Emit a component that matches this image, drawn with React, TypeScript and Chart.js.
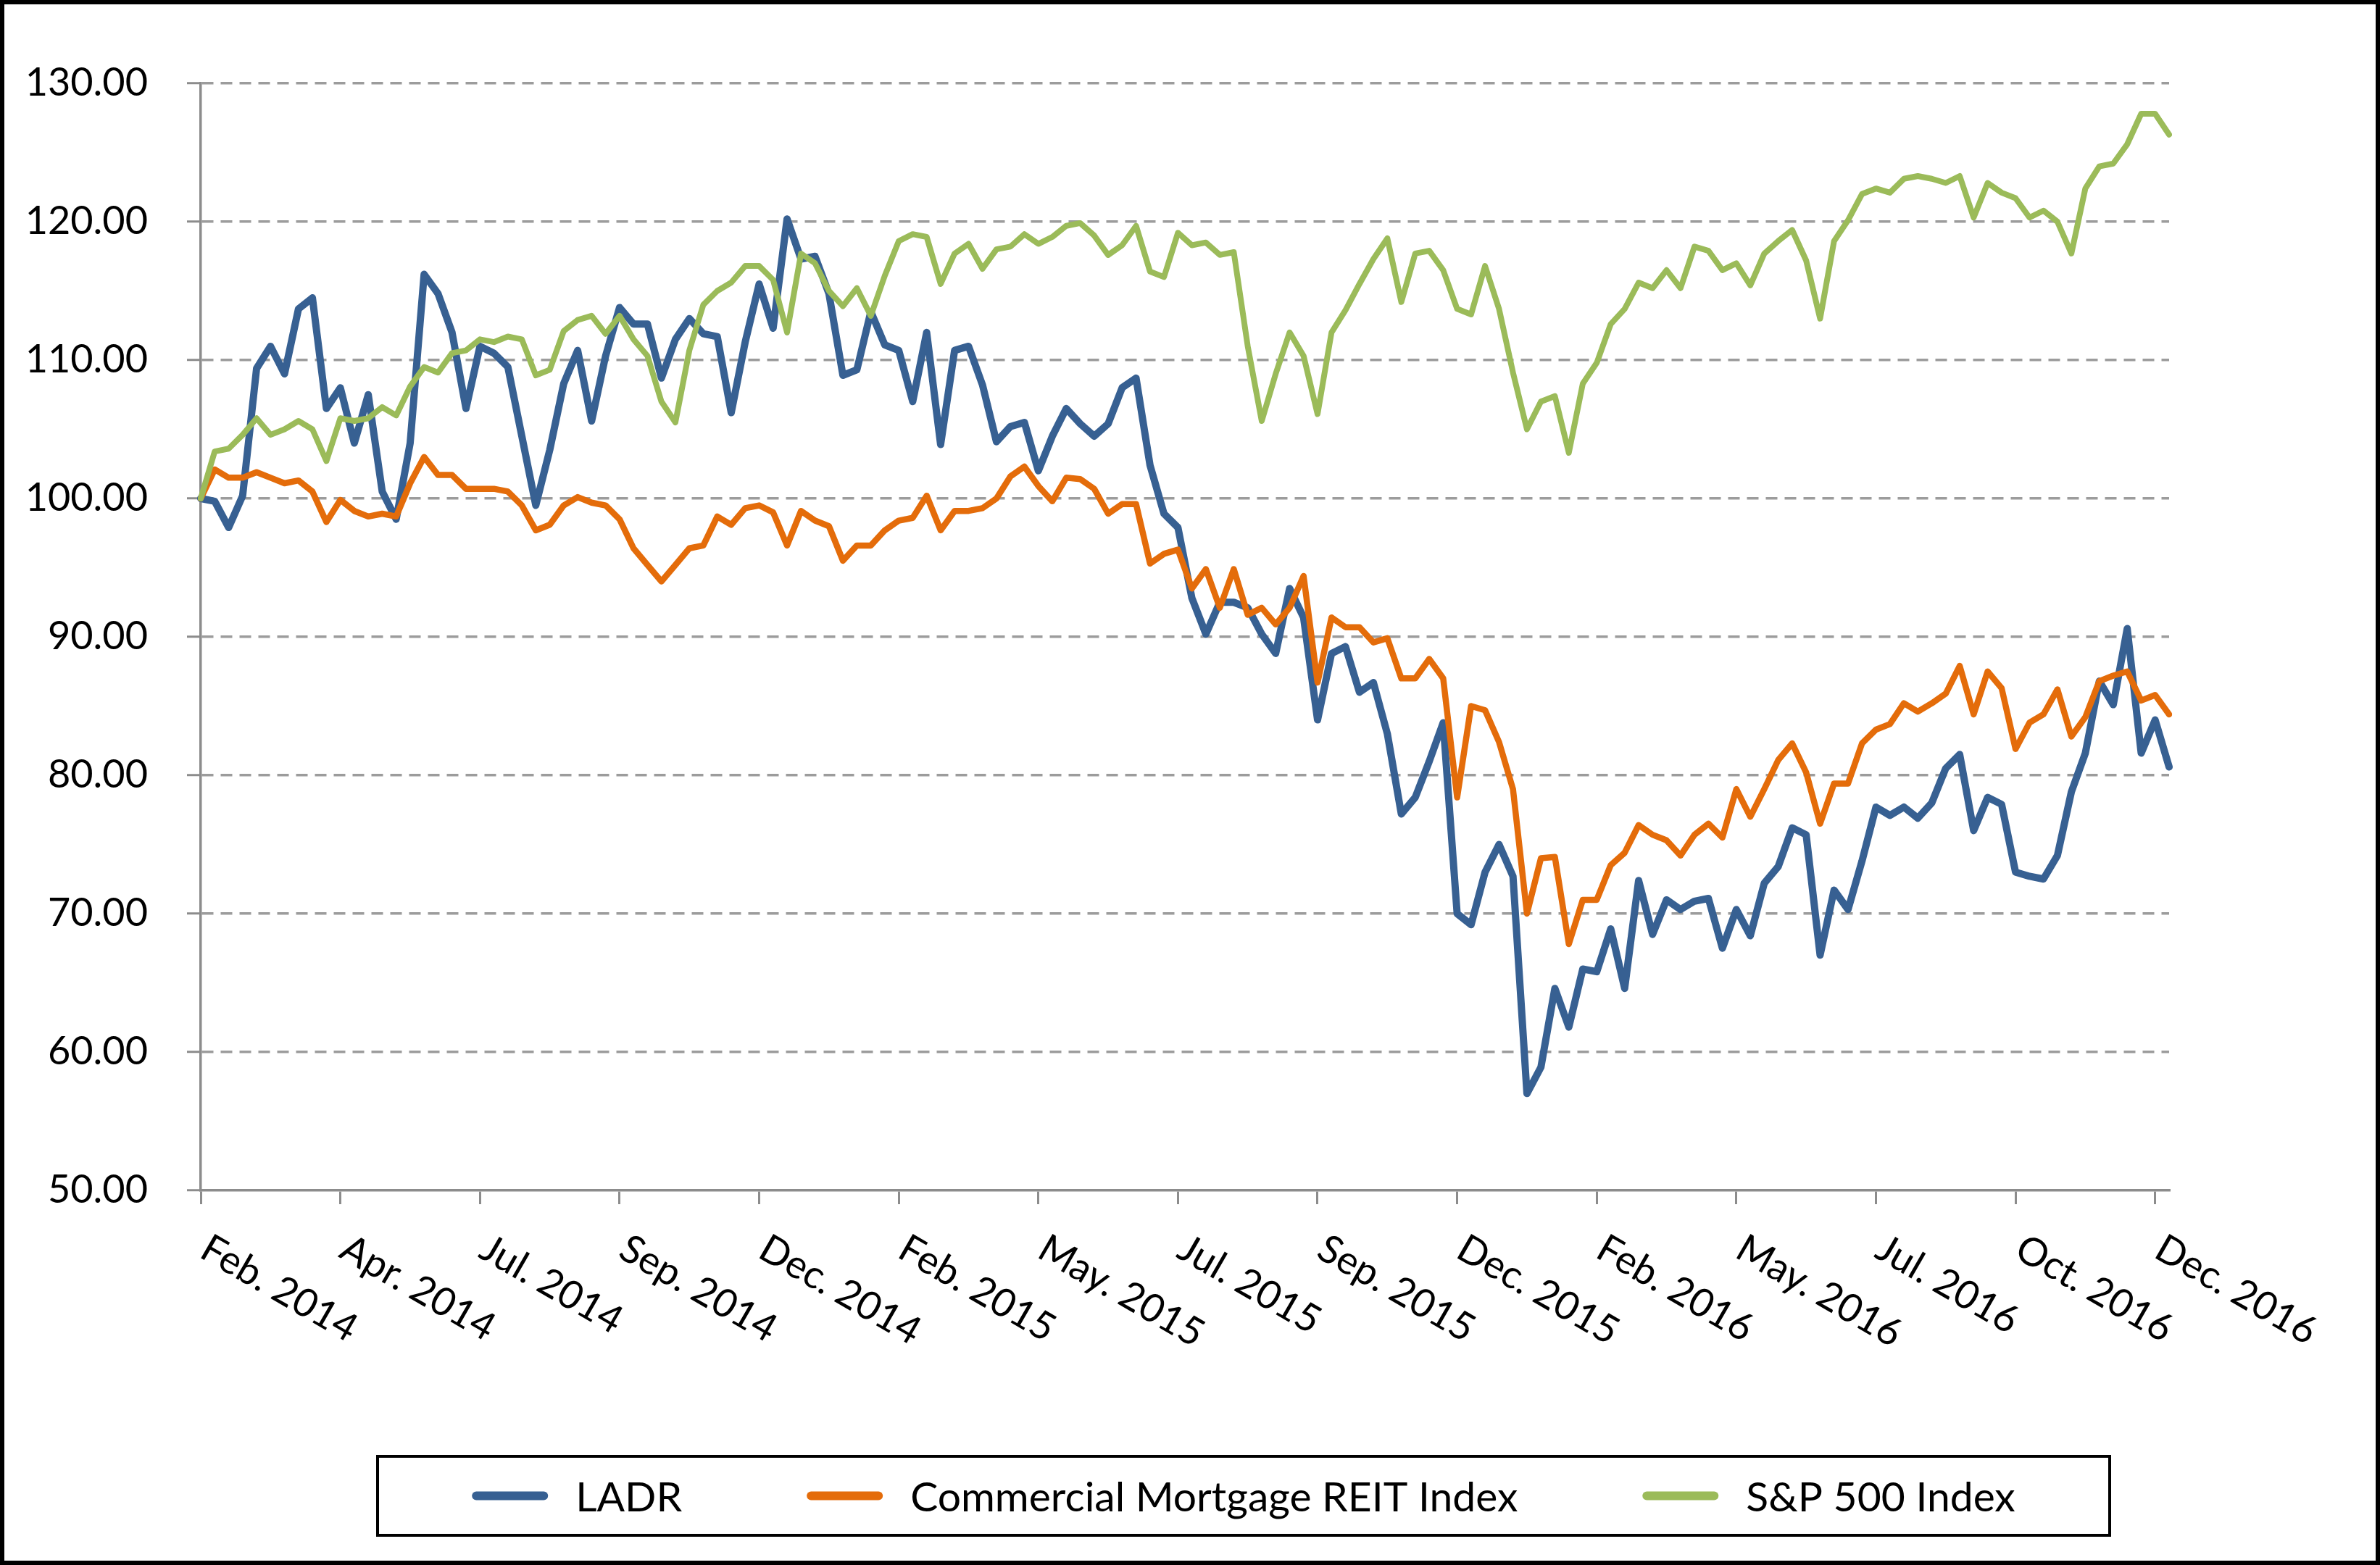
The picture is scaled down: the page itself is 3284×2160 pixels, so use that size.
import React, { useEffect, useRef } from 'react';
import { Chart, registerables } from 'chart.js';

Chart.register(...registerables);

const FONT = "Lato, 'Noto Sans', sans-serif";

// tick labels, one every TICK_EVERY points
const xTickLabels = [
  'Feb. 2014', 'Apr. 2014', 'Jul. 2014', 'Sep. 2014', 'Dec. 2014',
  'Feb. 2015', 'May. 2015', 'Jul. 2015', 'Sep. 2015', 'Dec. 2015',
  'Feb. 2016', 'May. 2016', 'Jul. 2016', 'Oct. 2016', 'Dec. 2016',
];
const TICK_EVERY = 10;

const seriesNames = ['LADR', 'Commercial Mortgage REIT Index', 'S&P 500 Index'];
const seriesColors = ['#376092', '#E46C0A', '#9BBB59'];
const seriesWidths = [10, 8.5, 8];

const ladr = [
  100, 99.8, 97.9, 100.2, 109.4, 111.0, 109.0, 113.7, 114.5, 106.5,
  108.0, 104.0, 107.5, 100.5, 98.5, 104.0, 116.2, 114.8, 112.0, 106.5,
  111.0, 110.5, 109.5, 104.5, 99.5, 103.5, 108.3, 110.7, 105.6, 110.3,
  113.8, 112.6, 112.6, 108.7, 111.5, 113.0, 111.9, 111.7, 106.2, 111.3,
  115.5, 112.3, 120.2, 117.3, 117.5, 114.8, 108.9, 109.3, 113.5, 111.1,
  110.7, 107.0, 112.0, 103.9, 110.7, 111.0, 108.2, 104.1, 105.2, 105.5,
  102.0, 104.5, 106.5, 105.4, 104.5, 105.4, 108.0, 108.7, 102.4, 98.9,
  97.9, 92.8, 90.2, 92.5, 92.5, 92.1, 90.2, 88.8, 93.5, 91.4,
  84.0, 88.8, 89.3, 86.0, 86.7, 83.0, 77.2, 78.4, 81.0, 83.8,
  70.0, 69.2, 73.0, 75.0, 72.7, 57.0, 58.9, 64.6, 61.8, 66.0,
  65.8, 68.9, 64.6, 72.4, 68.5, 71.0, 70.3, 70.9, 71.1, 67.5,
  70.3, 68.4, 72.2, 73.4, 76.2, 75.7, 67.0, 71.7, 70.3, 73.8,
  77.7, 77.1, 77.7, 76.9, 78.0, 80.5, 81.5, 76.0, 78.4, 77.9,
  73.0, 72.7, 72.5, 74.2, 78.8, 81.6, 86.8, 85.1, 90.6, 81.6,
  84.0, 80.6,
];

const reit = [
  100, 102.1, 101.5, 101.5, 101.9, 101.5, 101.1, 101.3, 100.5, 98.3,
  99.9, 99.1, 98.7, 98.9, 98.7, 101.1, 103.0, 101.7, 101.7, 100.7,
  100.7, 100.7, 100.5, 99.5, 97.7, 98.1, 99.5, 100.1, 99.7, 99.5,
  98.5, 96.4, 95.2, 94.0, 95.2, 96.4, 96.6, 98.7, 98.1, 99.3,
  99.5, 99.0, 96.6, 99.1, 98.4, 98.0, 95.5, 96.6, 96.6, 97.7,
  98.4, 98.6, 100.2, 97.7, 99.1, 99.1, 99.3, 100.0, 101.6, 102.3,
  100.9, 99.8, 101.5, 101.4, 100.7, 98.9, 99.6, 99.6, 95.3, 96.0,
  96.3, 93.5, 94.9, 92.1, 94.9, 91.6, 92.1, 90.9, 92.1, 94.4,
  86.7, 91.4, 90.7, 90.7, 89.6, 89.9, 87.0, 87.0, 88.4, 87.0,
  78.4, 85.0, 84.7, 82.4, 79.0, 70.0, 74.0, 74.1, 67.8, 71.0,
  71.0, 73.5, 74.4, 76.4, 75.7, 75.3, 74.2, 75.7, 76.5, 75.5,
  79.0, 77.0, 79.0, 81.1, 82.3, 80.2, 76.5, 79.4, 79.4, 82.3,
  83.3, 83.7, 85.2, 84.6, 85.2, 85.9, 87.9, 84.4, 87.5, 86.3,
  81.9, 83.8, 84.4, 86.2, 82.8, 84.2, 86.8, 87.2, 87.5, 85.4,
  85.8, 84.4,
];

const spx = [
  100, 103.4, 103.6, 104.6, 105.8, 104.6, 105.0, 105.6, 105.0, 102.7,
  105.8, 105.6, 105.8, 106.6, 106.0, 108.1, 109.5, 109.1, 110.5, 110.7,
  111.5, 111.3, 111.7, 111.5, 108.9, 109.3, 112.1, 112.9, 113.2, 111.9,
  113.2, 111.5, 110.3, 107.0, 105.5, 110.7, 114.0, 115.0, 115.6, 116.8,
  116.8, 115.8, 112.0, 117.7, 117.0, 115.0, 113.9, 115.2, 113.2, 116.1,
  118.6, 119.1, 118.9, 115.5, 117.7, 118.4, 116.6, 118.0, 118.2, 119.1,
  118.4, 118.9, 119.7, 119.9, 119.0, 117.6, 118.3, 119.7, 116.4, 116.0,
  119.2, 118.3, 118.5, 117.6, 117.8, 111.0, 105.6, 109.0, 112.0, 110.3,
  106.1, 112.0, 113.6, 115.5, 117.3, 118.8, 114.2, 117.7, 117.9, 116.5,
  113.7, 113.3, 116.8, 113.7, 109.1, 105.0, 107.0, 107.4, 103.3, 108.3,
  109.8, 112.6, 113.7, 115.6, 115.2, 116.5, 115.2, 118.2, 117.9, 116.5,
  117.0, 115.4, 117.7, 118.6, 119.4, 117.2, 113.0, 118.6, 120.1, 122.0,
  122.4, 122.1, 123.1, 123.3, 123.1, 122.8, 123.3, 120.3, 122.8, 122.1,
  121.7, 120.3, 120.8, 120.0, 117.7, 122.4, 124.0, 124.2, 125.6, 127.8,
  127.8, 126.3,
];

const yMin = 50;
const yMax = 130;
const yStep = 10;

const categories = ladr.map((_, i) =>
  i % TICK_EVERY === 0 ? xTickLabels[i / TICK_EVERY] || '' : ''
);

const xLabelPlugin = {
  id: 'rotatedXLabels',
  afterDraw(chart: any) {
    const { ctx } = chart;
    const x = chart.scales.x;
    ctx.save();
    ctx.font = `54px ${FONT}`;
    ctx.fillStyle = '#000000';
    ctx.textAlign = 'left';
    ctx.textBaseline = 'alphabetic';
    xTickLabels.forEach((lab, j) => {
      const px = x.getPixelForValue(j * TICK_EVERY);
      ctx.save();
      ctx.translate(px - 4, x.top + 91);
      ctx.rotate(Math.PI / 6);
      ctx.fillText(lab, 0, 0);
      ctx.restore();
    });
    ctx.restore();
  },
};

const boxLegendPlugin = {
  id: 'boxLegend',
  afterDraw(chart: any) {
    const { ctx } = chart;
    const L = 515;
    const T = 2004;
    const W = 2390;
    const H = 109;
    ctx.save();
    ctx.lineWidth = 4;
    ctx.strokeStyle = '#000000';
    ctx.strokeRect(L, T, W, H);
    ctx.font = `57px ${FONT}`;
    const items = chart.data.datasets.map((ds: any) => ({
      label: ds.label,
      color: ds.borderColor,
      w: ctx.measureText(ds.label).width,
    }));
    const sample = 105;
    const gap1 = 38;
    const gap2 = 172;
    const total =
      items.reduce((s: number, it: any) => s + sample + gap1 + it.w, 0) +
      gap2 * (items.length - 1);
    let cx = L + W / 2 - total / 2;
    const cy = T + H / 2;
    items.forEach((it: any) => {
      ctx.beginPath();
      ctx.lineCap = 'round';
      ctx.lineWidth = 12;
      ctx.strokeStyle = it.color;
      ctx.moveTo(cx + 6, cy);
      ctx.lineTo(cx + sample - 6, cy);
      ctx.stroke();
      cx += sample + gap1;
      ctx.fillStyle = '#000000';
      ctx.textAlign = 'left';
      ctx.textBaseline = 'alphabetic';
      ctx.fillText(it.label, cx, cy + 21);
      cx += it.w + gap2;
    });
    ctx.restore();
  },
};

export default function App() {
  const canvasRef = useRef<HTMLCanvasElement | null>(null);

  useEffect(() => {
    if (!canvasRef.current) return;
    const seriesData = [ladr, reit, spx];
    const chart = new Chart(canvasRef.current, {
      type: 'line',
      data: {
        labels: categories,
        datasets: seriesData.map((d, i) => ({
          label: seriesNames[i],
          data: d,
          borderColor: seriesColors[i],
          backgroundColor: seriesColors[i],
          borderWidth: seriesWidths[i],
          pointRadius: 0,
          pointHoverRadius: 0,
          tension: 0,
          borderJoinStyle: 'round' as const,
          borderCapStyle: 'round' as const,
          fill: false,
          order: 2 - i,
        })),
      },
      options: {
        animation: false,
        responsive: true,
        maintainAspectRatio: false,
        layout: { padding: { top: 109, right: 285, bottom: 492, left: 0 } },
        plugins: {
          legend: { display: false },
          tooltip: { enabled: false },
          title: { display: false },
        },
        scales: {
          x: {
            type: 'category',
            offset: false,
            ticks: { display: false, autoSkip: false },
            afterBuildTicks: (scale: any) => {
              scale.ticks = scale.ticks.filter((t: any) => t.value % TICK_EVERY === 0);
            },
            afterFit: (scale: any) => {
              scale.height = 19;
            },
            grid: {
              display: true,
              drawOnChartArea: false,
              drawTicks: true,
              tickLength: 19,
              color: '#8C8C8C',
              lineWidth: 3,
            },
            border: { display: true, color: '#8C8C8C', width: 3.5 },
          },
          y: {
            min: yMin,
            max: yMax,
            ticks: {
              stepSize: yStep,
              padding: 54,
              color: '#000000',
              font: { family: FONT, size: 54 },
              callback: (v: any) => Number(v).toFixed(2),
            },
            afterFit: (scale: any) => {
              scale.width = 271;
            },
            grid: {
              color: (c: any) => (c.tick && c.tick.value === yMin ? 'rgba(0,0,0,0)' : '#9C9C9C'),
              lineWidth: 3.5,
              drawTicks: true,
              tickLength: 19,
              tickColor: '#8C8C8C',
              tickWidth: 3,
              tickBorderDash: [0, 0],
            },
            border: { display: true, color: '#8C8C8C', width: 3.5, dash: [16, 10] },
          },
        },
      },
      plugins: [xLabelPlugin, boxLegendPlugin],
    } as any);
    return () => chart.destroy();
  }, []);

  return (
    <div
      style={{
        position: 'absolute',
        left: 0,
        top: 0,
        width: 3284,
        height: 2160,
        boxSizing: 'border-box',
        border: '6px solid #000000',
        background: '#ffffff',
      }}
    >
      <div style={{ position: 'relative', width: '100%', height: '100%' }}>
        <canvas ref={canvasRef} />
      </div>
    </div>
  );
}
